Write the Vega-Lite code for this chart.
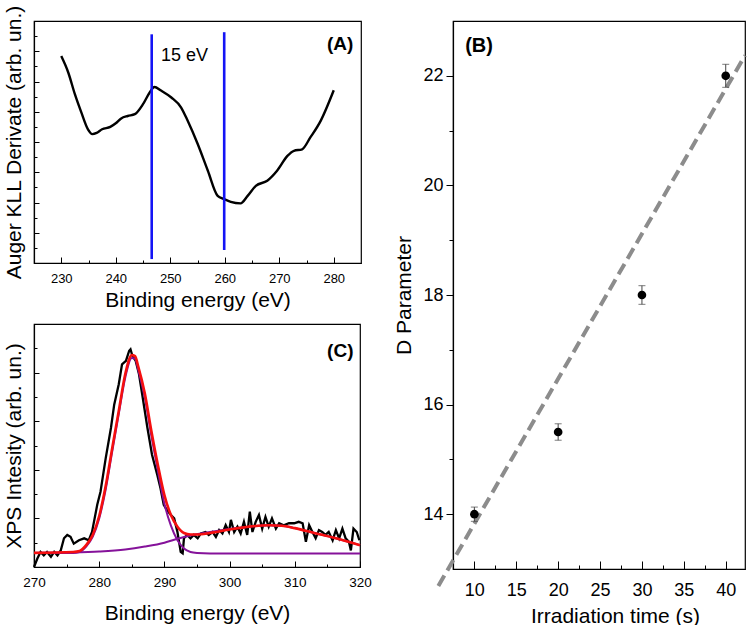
{
  "$schema": "https://vega.github.io/schema/vega-lite/v6.json",
  "background": "white",
  "padding": {"left": 2, "top": 4, "right": 0, "bottom": 0},
  "config": {
    "font": "Liberation Sans",
    "view": {"stroke": "black", "strokeWidth": 1.2},
    "axis": {"grid": false, "domainColor": "black", "domainWidth": 1.2, "tickColor": "black", "tickWidth": 1, "labelColor": "black", "titleColor": "black", "titleFontWeight": "normal", "labelFlush": false, "labelOverlap": false, "labelBound": false, "labelFont": "Liberation Sans", "titleFont": "Liberation Sans"}
  },
  "datasets": {
    "curveA": [
      {"x": 230, "y": 6.84}, {"x": 231.3, "y": 6.29}, {"x": 232.5, "y": 5.58}, {"x": 233.7, "y": 4.97}, {"x": 234.9, "y": 4.42}, {"x": 235.7, "y": 4.26},
      {"x": 236.5, "y": 4.3}, {"x": 237.5, "y": 4.42}, {"x": 239, "y": 4.5}, {"x": 240, "y": 4.62}, {"x": 241, "y": 4.78}, {"x": 242.2, "y": 4.86},
      {"x": 243.5, "y": 4.92}, {"x": 245, "y": 5.25}, {"x": 246.2, "y": 5.63}, {"x": 247.1, "y": 5.82}, {"x": 248.3, "y": 5.7}, {"x": 250.2, "y": 5.47},
      {"x": 252, "y": 5.14}, {"x": 253.2, "y": 4.7}, {"x": 255, "y": 3.95}, {"x": 256.9, "y": 3.05}, {"x": 258.7, "y": 2.22}, {"x": 259.9, "y": 2.11},
      {"x": 261.1, "y": 2.02}, {"x": 262.9, "y": 1.97}, {"x": 264.2, "y": 2.22}, {"x": 265.7, "y": 2.55}, {"x": 267.8, "y": 2.72}, {"x": 269.6, "y": 3.05},
      {"x": 271.5, "y": 3.54}, {"x": 272.7, "y": 3.71}, {"x": 274.2, "y": 3.76}, {"x": 275.7, "y": 4.15}, {"x": 277.6, "y": 4.7}, {"x": 280, "y": 5.71}
    ],
    "linesA": [
      {"x": 246.6, "y": 0.13, "y2": 7.56},
      {"x": 259.9, "y": 0.43, "y2": 7.63}
    ],
    "signalC": [
      {"x": 270, "y": 0.0}, {"x": 270.5, "y": 0.17}, {"x": 271, "y": 0.31}, {"x": 271.5, "y": 0.24}, {"x": 272, "y": 0.31}, {"x": 272.6, "y": 0.21},
      {"x": 273.1, "y": 0.31}, {"x": 273.6, "y": 0.24}, {"x": 274.1, "y": 0.34}, {"x": 274.6, "y": 0.59}, {"x": 275.1, "y": 0.66}, {"x": 275.6, "y": 0.62},
      {"x": 276.1, "y": 0.48}, {"x": 276.9, "y": 0.55}, {"x": 277.7, "y": 0.59}, {"x": 278.4, "y": 0.55}, {"x": 278.9, "y": 0.72}, {"x": 279.7, "y": 1.28},
      {"x": 280.2, "y": 1.55}, {"x": 281, "y": 2.24}, {"x": 281.8, "y": 2.86}, {"x": 282.3, "y": 3.34}, {"x": 283, "y": 3.76}, {"x": 283.5, "y": 4.17},
      {"x": 284.1, "y": 4.24}, {"x": 284.6, "y": 4.45}, {"x": 284.8, "y": 4.48}, {"x": 285.1, "y": 4.34}, {"x": 285.6, "y": 4.24}, {"x": 286.1, "y": 3.97},
      {"x": 286.6, "y": 3.55}, {"x": 287.4, "y": 2.86}, {"x": 288.1, "y": 2.31}, {"x": 288.9, "y": 1.9}, {"x": 289.4, "y": 1.62}, {"x": 289.9, "y": 1.28},
      {"x": 290.4, "y": 1.17}, {"x": 291, "y": 1.07}, {"x": 291.5, "y": 1.0}, {"x": 292, "y": 0.72}, {"x": 292.5, "y": 0.31}, {"x": 292.8, "y": 0.28},
      {"x": 293, "y": 0.59}, {"x": 293.5, "y": 0.66}, {"x": 294, "y": 0.59}, {"x": 294.5, "y": 0.66}, {"x": 295.1, "y": 0.59}, {"x": 295.6, "y": 0.69},
      {"x": 296.3, "y": 0.72}, {"x": 296.8, "y": 0.66}, {"x": 297.4, "y": 0.72}, {"x": 297.9, "y": 0.62}, {"x": 298.4, "y": 0.76}, {"x": 298.9, "y": 0.69},
      {"x": 299.4, "y": 0.86}, {"x": 299.9, "y": 0.72}, {"x": 300.2, "y": 0.97}, {"x": 300.7, "y": 0.72}, {"x": 301.2, "y": 0.83}, {"x": 301.7, "y": 0.69},
      {"x": 302.2, "y": 0.93}, {"x": 302.7, "y": 0.66}, {"x": 303.1, "y": 1.14}, {"x": 303.5, "y": 0.72}, {"x": 304, "y": 0.93}, {"x": 304.5, "y": 1.07},
      {"x": 305, "y": 0.79}, {"x": 305.5, "y": 1.03}, {"x": 306, "y": 0.83}, {"x": 306.5, "y": 1.0}, {"x": 307.1, "y": 0.79}, {"x": 307.6, "y": 0.9},
      {"x": 308.3, "y": 0.86}, {"x": 309.1, "y": 0.9}, {"x": 309.9, "y": 0.9}, {"x": 310.6, "y": 0.93}, {"x": 311.2, "y": 0.9}, {"x": 311.7, "y": 0.52},
      {"x": 312.2, "y": 0.86}, {"x": 312.7, "y": 0.72}, {"x": 313.2, "y": 0.59}, {"x": 313.7, "y": 0.76}, {"x": 314.2, "y": 0.72}, {"x": 314.7, "y": 0.66},
      {"x": 315.2, "y": 0.72}, {"x": 315.8, "y": 0.55}, {"x": 316.3, "y": 0.76}, {"x": 316.8, "y": 0.59}, {"x": 317.3, "y": 0.79}, {"x": 317.8, "y": 0.59},
      {"x": 318.3, "y": 0.52}, {"x": 318.6, "y": 0.34}, {"x": 319, "y": 0.79}, {"x": 319.5, "y": 0.72}, {"x": 319.9, "y": 0.55}
    ],
    "purpleC": [
      {"comp": "peak", "x": 270, "y": 0.29}, {"comp": "peak", "x": 276, "y": 0.29}, {"comp": "peak", "x": 277, "y": 0.31}, {"comp": "peak", "x": 278, "y": 0.42},
      {"comp": "peak", "x": 279, "y": 0.62}, {"comp": "peak", "x": 280, "y": 1.0}, {"comp": "peak", "x": 281, "y": 1.6}, {"comp": "peak", "x": 282, "y": 2.38},
      {"comp": "peak", "x": 283, "y": 3.15}, {"comp": "peak", "x": 284, "y": 3.9}, {"comp": "peak", "x": 285, "y": 4.3}, {"comp": "peak", "x": 285.5, "y": 4.28},
      {"comp": "peak", "x": 286, "y": 4.05}, {"comp": "peak", "x": 287, "y": 3.48}, {"comp": "peak", "x": 288, "y": 2.7}, {"comp": "peak", "x": 289, "y": 1.98},
      {"comp": "peak", "x": 290, "y": 1.3}, {"comp": "peak", "x": 291, "y": 0.85}, {"comp": "peak", "x": 292, "y": 0.55}, {"comp": "peak", "x": 293, "y": 0.38},
      {"comp": "peak", "x": 294, "y": 0.31}, {"comp": "peak", "x": 295, "y": 0.29}, {"comp": "peak", "x": 297, "y": 0.28}, {"comp": "peak", "x": 320, "y": 0.28},
      {"comp": "bg", "x": 270, "y": 0.29}, {"comp": "bg", "x": 275, "y": 0.3}, {"comp": "bg", "x": 280, "y": 0.32}, {"comp": "bg", "x": 284, "y": 0.36},
      {"comp": "bg", "x": 287, "y": 0.42}, {"comp": "bg", "x": 290, "y": 0.5}, {"comp": "bg", "x": 292, "y": 0.58}, {"comp": "bg", "x": 294, "y": 0.65},
      {"comp": "bg", "x": 297, "y": 0.72}, {"comp": "bg", "x": 300, "y": 0.78}, {"comp": "bg", "x": 303, "y": 0.83}, {"comp": "bg", "x": 306, "y": 0.86},
      {"comp": "bg", "x": 308, "y": 0.85}, {"comp": "bg", "x": 310, "y": 0.8}, {"comp": "bg", "x": 313, "y": 0.7}, {"comp": "bg", "x": 316, "y": 0.6},
      {"comp": "bg", "x": 320, "y": 0.45}
    ],
    "fitC": [
      {"x": 270, "y": 0.29}, {"x": 276, "y": 0.31}, {"x": 277, "y": 0.33}, {"x": 278, "y": 0.45}, {"x": 279, "y": 0.66}, {"x": 280, "y": 1.05},
      {"x": 281, "y": 1.67}, {"x": 282, "y": 2.45}, {"x": 283, "y": 3.21}, {"x": 284, "y": 3.97}, {"x": 285, "y": 4.36}, {"x": 285.5, "y": 4.34},
      {"x": 286, "y": 4.12}, {"x": 287, "y": 3.57}, {"x": 288, "y": 2.8}, {"x": 289, "y": 2.1}, {"x": 290, "y": 1.48}, {"x": 291, "y": 1.07},
      {"x": 292, "y": 0.83}, {"x": 293, "y": 0.7}, {"x": 294, "y": 0.67}, {"x": 295, "y": 0.67}, {"x": 297, "y": 0.7}, {"x": 300, "y": 0.77},
      {"x": 303, "y": 0.83}, {"x": 306, "y": 0.86}, {"x": 308, "y": 0.85}, {"x": 310, "y": 0.8}, {"x": 313, "y": 0.7}, {"x": 316, "y": 0.6},
      {"x": 320, "y": 0.45}
    ],
    "pointsB": [
      {"t": 10, "D": 14.0}, {"t": 20, "D": 15.5}, {"t": 30, "D": 18.0}, {"t": 40, "D": 22.0}
    ],
    "errB": [
      {"t": 10, "D": 13.87, "D2": 14.13}, {"t": 20, "D": 15.35, "D2": 15.65}, {"t": 30, "D": 17.83, "D2": 18.17}, {"t": 40, "D": 21.79, "D2": 22.21}
    ],
    "fitB": [
      {"t": 5.7, "D": 12.69}, {"t": 42.3, "D": 22.37}
    ]
  },
  "hconcat": [
    {
      "spacing": 12,
      "vconcat": [
        {
          "width": 327,
          "height": 242,
          "encoding": {
            "x": {"field": "x", "type": "quantitative", "scale": {"domain": [225, 285], "nice": false, "zero": false},
              "axis": {"title": "Binding energy (eV)", "values": [230, 235, 240, 245, 250, 255, 260, 265, 270, 275, 280],
                "labelExpr": "datum.value % 10 === 0 ? datum.label : ''",
                "tickSize": {"condition": {"test": "datum.value % 10 === 0", "value": -6}, "value": -3},
                "labelPadding": 15, "labelFontSize": 13, "titleFontSize": 21, "titlePadding": 1}},
            "y": {"field": "y", "type": "quantitative", "scale": {"domain": [0, 8], "nice": false, "zero": false},
              "axis": {"title": "Auger KLL Derivate (arb. un.)", "values": [0.5, 1, 1.5, 2, 2.5, 3, 3.5, 4, 4.5, 5, 5.5, 6, 6.5, 7, 7.5],
                "labels": false,
                "tickSize": {"condition": {"test": "datum.value % 1 === 0", "value": -5}, "value": -3},
                "titleFontSize": 21, "titlePadding": 9}}
          },
          "layer": [
            {"data": {"name": "curveA"}, "mark": {"type": "line", "color": "black", "strokeWidth": 2.4, "interpolate": "monotone"}},
            {"data": {"name": "linesA"}, "mark": {"type": "rule", "color": "#1414f5", "strokeWidth": 2.6}, "encoding": {"y2": {"field": "y2"}}},
            {"data": {"values": [{"x": 248.3, "y": 6.84, "label": "15 eV"}]}, "mark": {"type": "text", "align": "left", "baseline": "middle", "fontSize": 18, "color": "black"}, "encoding": {"text": {"field": "label"}}},
            {"data": {"values": [{"x": 283.6, "y": 7.23, "label": "(A)"}]}, "mark": {"type": "text", "align": "right", "baseline": "middle", "fontSize": 19, "fontWeight": "bold", "color": "black"}, "encoding": {"text": {"field": "label"}}}
          ]
        },
        {
          "width": 326,
          "height": 243,
          "encoding": {
            "x": {"field": "x", "type": "quantitative", "scale": {"domain": [270, 320], "nice": false, "zero": false},
              "axis": {"title": "Binding energy (eV)", "values": [270, 275, 280, 285, 290, 295, 300, 305, 310, 315, 320],
                "labelExpr": "datum.value % 10 === 0 ? datum.label : ''",
                "tickSize": {"condition": {"test": "datum.value % 10 === 0", "value": -6}, "value": -3},
                "labelPadding": 14, "labelFontSize": 13.5, "titleFontSize": 21, "titlePadding": 11}},
            "y": {"field": "y", "type": "quantitative", "scale": {"domain": [0, 5], "nice": false, "zero": false},
              "axis": {"title": "XPS Intesity (arb. un.)", "values": [0.5, 1, 1.5, 2, 2.5, 3, 3.5, 4, 4.5],
                "labels": false,
                "tickSize": {"condition": {"test": "datum.value % 1 === 0", "value": -5}, "value": -3},
                "titleFontSize": 21, "titlePadding": 9}}
          },
          "layer": [
            {"data": {"name": "signalC"}, "mark": {"type": "line", "color": "black", "strokeWidth": 2.3}},
            {"data": {"name": "purpleC"}, "mark": {"type": "line", "color": "#85129a", "strokeWidth": 2, "interpolate": "monotone"}, "encoding": {"detail": {"field": "comp"}}},
            {"data": {"name": "fitC"}, "mark": {"type": "line", "color": "#f50f0f", "strokeWidth": 2.6, "interpolate": "monotone"}},
            {"data": {"values": [{"x": 319, "y": 4.45, "label": "(C)"}]}, "mark": {"type": "text", "align": "right", "baseline": "middle", "fontSize": 19, "fontWeight": "bold", "color": "black"}, "encoding": {"text": {"field": "label"}}}
          ]
        }
      ]
    },
    {
      "width": 292,
      "height": 548,
      "title": {"text": " ", "fontSize": 2, "offset": 14},
      "encoding": {
        "x": {"field": "t", "type": "quantitative", "scale": {"domain": [7.45, 42.3], "nice": false, "zero": false},
          "axis": {"title": "Irradiation time (s)", "values": [10, 12.5, 15, 17.5, 20, 22.5, 25, 27.5, 30, 32.5, 35, 37.5, 40],
            "labelExpr": "datum.value % 5 === 0 ? datum.label : ''",
            "tickSize": {"condition": {"test": "datum.value % 5 === 0", "value": -8}, "value": -4},
            "labelPadding": 20, "labelFontSize": 18, "titleFontSize": 21, "titlePadding": 2, "titleX": 162}},
        "y": {"field": "D", "type": "quantitative", "scale": {"domain": [13, 23], "nice": false, "zero": false},
          "axis": {"title": "D Parameter", "values": [14, 15, 16, 17, 18, 19, 20, 21, 22],
            "labelExpr": "datum.value % 2 === 0 ? datum.label : ''",
            "tickSize": {"condition": {"test": "datum.value % 2 === 0", "value": 7}, "value": 4},
            "labelPadding": 3, "labelFontSize": 18, "titleFontSize": 21, "titlePadding": 8}}
      },
      "layer": [
        {"data": {"name": "fitB"}, "mark": {"type": "line", "color": "#8c8c8c", "strokeWidth": 4, "strokeDash": [12, 6], "clip": false}},
        {"data": {"name": "errB"}, "mark": {"type": "errorbar", "color": "#444444", "thickness": 1, "ticks": {"size": 7, "thickness": 1, "color": "#444444"}}, "encoding": {"y2": {"field": "D2"}}},
        {"data": {"name": "pointsB"}, "mark": {"type": "point", "shape": "circle", "filled": true, "color": "black", "size": 75, "opacity": 1}},
        {"data": {"values": [{"t": 8.9, "D": 22.55, "label": "(B)"}]}, "mark": {"type": "text", "align": "left", "baseline": "middle", "fontSize": 20, "fontWeight": "bold", "color": "black"}, "encoding": {"text": {"field": "label"}}}
      ]
    }
  ],
  "spacing": 21
}
